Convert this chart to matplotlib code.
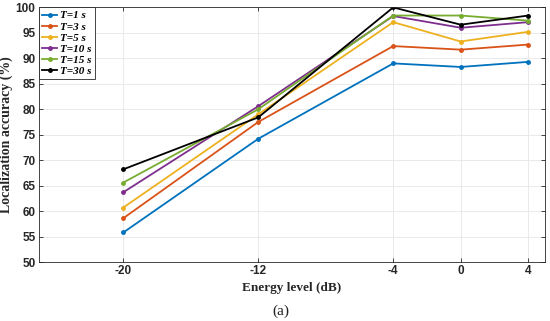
import matplotlib
matplotlib.use('Agg')
import matplotlib.pyplot as plt

plt.rcParams['axes.unicode_minus'] = False

# data
energy = [-20, -12, -4, 0, 4]
labels = ['T=1 s', 'T=3 s', 'T=5 s', 'T=10 s', 'T=15 s', 'T=30 s']
t1 = [55.8, 74.2, 89.0, 88.3, 89.3]
t3 = [58.6, 77.5, 92.4, 91.7, 92.7]
t5 = [60.7, 79.0, 97.1, 93.3, 95.2]
t10 = [63.7, 80.6, 98.3, 96.0, 97.1]
t15 = [65.6, 80.0, 98.4, 98.4, 97.4]
t30 = [68.2, 78.4, 100.0, 96.6, 98.4]
series = [t1, t3, t5, t10, t15, t30]
colors = ['#0072BD', '#D95319', '#EDB120', '#7E2F8E', '#77AC30', '#000000']

SERIF = 'Liberation Serif'
SANS = 'Liberation Sans'

fig = plt.figure(figsize=(5.5, 3.21), dpi=100)
ax = fig.add_axes([0.0709, 0.1838, 0.9201, 0.7932])

for s, c, lab in zip(series, colors, labels):
    ax.plot(energy, s, color=c, lw=1.3, marker='.', ms=5, label=lab)

ax.set_xlim(-25, 5)
ax.set_ylim(50, 100)
ax.set_xticks(energy)
ax.set_yticks(range(50, 101, 5))
ax.grid(True, color='#e6e6e6', lw=0.6)
ax.set_axisbelow(True)
ax.tick_params(direction='in', length=3, width=0.6, color='#262626',
               top=True, right=True, labelsize=8.5, pad=2.5)
for lb in ax.get_xticklabels() + ax.get_yticklabels():
    lb.set_fontfamily(SANS)
    lb.set_fontweight('bold')
    lb.set_color('#262626')
for sp in ax.spines.values():
    sp.set_color('#262626')
    sp.set_linewidth(0.6)

ax.set_xlabel('Energy level (dB)', fontfamily=SERIF, fontweight='bold',
              fontsize=9.5, color='#262626', labelpad=3)
ax.set_ylabel('Localization accuracy (%)', fontfamily=SERIF, fontweight='bold',
              fontsize=10, color='#262626', labelpad=2)

leg = ax.legend(loc='upper left', borderaxespad=0, handlelength=1.3,
                handletextpad=0.3, labelspacing=0.12, borderpad=0.3,
                fancybox=False, framealpha=1, edgecolor='#262626',
                prop=dict(family=SERIF, weight='bold', style='italic', size=8))
leg.get_frame().set_linewidth(0.6)

fig.text(0.51, 0.01, '(a)', fontfamily=SERIF, fontsize=11,
         ha='center', va='bottom', color='#222222')

fig.savefig('out.png', dpi=100)
